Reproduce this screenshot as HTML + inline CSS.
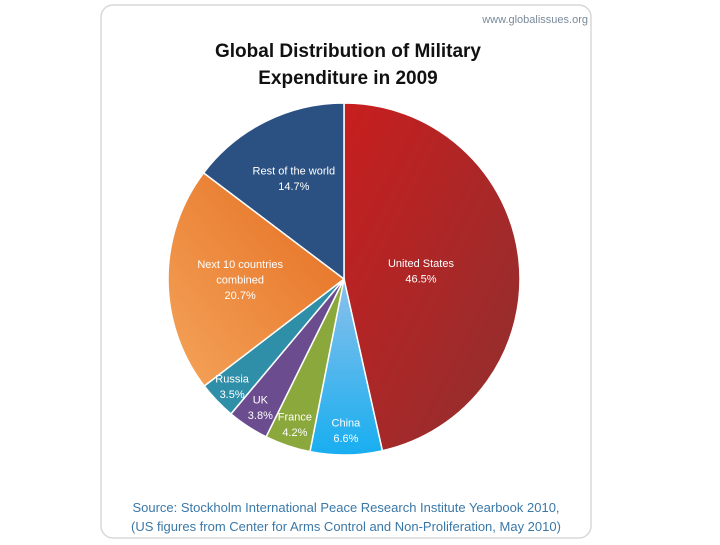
<!DOCTYPE html>
<html><head><meta charset="utf-8"><style>
body{margin:0;width:720px;height:540px;background:#fff;overflow:hidden;font-family:"Liberation Sans",sans-serif}
</style></head><body>
<svg width="720" height="540">
<defs>
<linearGradient id="gUS" x1="0" y1="0" x2="1" y2="1"><stop offset="0" stop-color="#c81e1e"/><stop offset="1" stop-color="#8e3030"/></linearGradient>
<linearGradient id="gN" x1="1" y1="0" x2="0" y2="1"><stop offset="0" stop-color="#e46c1f"/><stop offset="1" stop-color="#f4a45a"/></linearGradient>
<linearGradient id="gC" x1="0" y1="0" x2="0" y2="1"><stop offset="0" stop-color="#8cc0ea"/><stop offset="1" stop-color="#18aef0"/></linearGradient>
</defs>
<rect x="101" y="5" width="490" height="533" rx="12" fill="#fff" stroke="#d8d8d8" stroke-width="1.5"/>
<text x="588" y="23" text-anchor="end" font-size="11" fill="#7a8a9a">www.globalissues.org</text>
<text x="348" y="57" text-anchor="middle" font-size="19" font-weight="bold" fill="#111">Global Distribution of Military</text>
<text x="348" y="84" text-anchor="middle" font-size="19" font-weight="bold" fill="#111">Expenditure in 2009</text>
<g id="pie"></g>
<text x="346" y="512" text-anchor="middle" font-size="13" fill="#3a78a8">Source: Stockholm International Peace Research Institute Yearbook 2010,</text>
<text x="346" y="531" text-anchor="middle" font-size="13" fill="#3a78a8">(US figures from Center for Arms Control and Non-Proliferation, May 2010)</text>
</svg>
<script>
const categories=["United States","China","France","UK","Russia","Next 10 countries combined","Rest of the world"];
const values=[46.5,6.6,4.2,3.8,3.5,20.7,14.7];
const fills=["url(#gUS)","url(#gC)","#8aa83c","#6b4d8f","#2f8ea8","url(#gN)","#2b5183"];
const labelLines=[["United States","46.5%"],["China","6.6%"],["France","4.2%"],["UK","3.8%"],["Russia","3.5%"],["Next 10 countries","combined","20.7%"],["Rest of the world","14.7%"]];
const labelR=[0.44,0.86,0.87,0.87,0.88,0.59,0.64];
const cx=344,cy=279,R=176;
const ns="http://www.w3.org/2000/svg";
const g=document.getElementById('pie');
const total=values.reduce((a,b)=>a+b,0);
function pt(a,r){return [cx+r*Math.sin(a),cy-r*Math.cos(a)];}
let a0=0;
const labels=[];
values.forEach((v,i)=>{
  const a1=a0+v/total*2*Math.PI;
  const p0=pt(a0,R),p1=pt(a1,R);
  const path=document.createElementNS(ns,'path');
  path.setAttribute('d',`M${cx},${cy}L${p0[0]},${p0[1]}A${R},${R} 0 ${a1-a0>Math.PI?1:0} 1 ${p1[0]},${p1[1]}Z`);
  path.setAttribute('fill',fills[i]);
  path.setAttribute('stroke','#fff');
  path.setAttribute('stroke-width','1.5');
  
  
  g.appendChild(path);
  labels.push([(a0+a1)/2,i]);
  a0=a1;
});
labels.forEach(([m,i])=>{
  const lp=pt(m,R*labelR[i]);
  const lines=labelLines[i];
  lines.forEach((t,j)=>{
    const tx=document.createElementNS(ns,'text');
    tx.setAttribute('x',lp[0]);
    tx.setAttribute('y',lp[1]+(j-(lines.length-1)/2)*15.5+4);
    tx.setAttribute('text-anchor','middle');
    tx.setAttribute('font-size','11');
    tx.setAttribute('fill','#fff');
    
    
    tx.textContent=t;
    g.appendChild(tx);
  });
});
</script>
</body></html>
